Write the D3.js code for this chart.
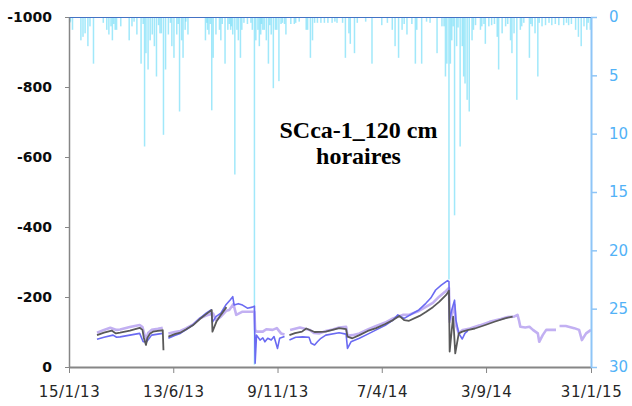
<!DOCTYPE html>
<html>
<head>
<meta charset="utf-8">
<script src="https://cdn.jsdelivr.net/npm/d3@7"></script>
<style>
  body { margin: 0; background: #fff; }
  svg { display: block; }
</style>
</head>
<body>
<div id="chart"></div>
<script>
/* SCca-1_120 cm, hourly tensiometers + daily rain (reversed right axis) */

const xTickDates = ['2013-01-15', '2013-06-13', '2013-11-09', '2014-04-07', '2014-09-03', '2015-01-31'];
const leftTicks = [0, -200, -400, -600, -800, -1000];
const rightTicks = [0, 5, 10, 15, 20, 25, 30];
const titleLines = ['SCca-1_120 cm', 'horaires'];

// rain, mm per day
const rain = [
  ['2013-01-16', 0.5], ['2013-01-17', 0.4], ['2013-01-20', 1.1], ['2013-02-01', 2.0], ['2013-02-04', 1.7],
  ['2013-02-07', 1.4], ['2013-02-11', 2.5], ['2013-02-14', 0.8], ['2013-02-19', 4.0],
  ['2013-03-05', 0.5], ['2013-03-10', 1.1], ['2013-03-13', 1.5], ['2013-03-16', 0.8], ['2013-03-18', 2.0],
  ['2013-03-20', 0.6], ['2013-03-22', 1.1], ['2013-03-24', 1.1], ['2013-03-30', 0.8],
  ['2013-04-11', 2.0], ['2013-04-15', 0.8], ['2013-04-18', 0.4], ['2013-04-22', 1.5], ['2013-04-28', 4.0],
  ['2013-05-01', 0.6], ['2013-05-03', 11.1], ['2013-05-05', 3.1], ['2013-05-08', 4.5], ['2013-05-11', 2.0],
  ['2013-05-14', 1.5], ['2013-05-17', 2.5], ['2013-05-20', 5.1], ['2013-05-23', 0.7], ['2013-05-25', 1.4],
  ['2013-05-27', 1.4], ['2013-05-30', 10.1],
  ['2013-06-02', 4.5], ['2013-06-06', 1.5], ['2013-06-09', 0.5], ['2013-06-11', 2.5], ['2013-06-14', 3.5],
  ['2013-06-18', 1.5], ['2013-06-20', 0.6], ['2013-06-22', 8.1], ['2013-06-25', 2.0], ['2013-06-27', 3.5],
  ['2013-06-30', 1.1], ['2013-07-01', 0.4], ['2013-07-04', 1.5],
  ['2013-07-29', 2.0], ['2013-07-31', 0.5], ['2013-08-01', 1.1], ['2013-08-03', 1.5], ['2013-08-05', 0.6],
  ['2013-08-07', 8.0], ['2013-08-09', 3.5], ['2013-08-13', 1.5], ['2013-08-18', 1.1], ['2013-08-20', 2.0],
  ['2013-08-22', 0.6], ['2013-08-26', 4.0], ['2013-08-30', 1.1],
  ['2013-09-01', 0.6], ['2013-09-03', 1.1], ['2013-09-04', 0.8], ['2013-09-06', 1.5], ['2013-09-09', 13.5],
  ['2013-09-12', 1.1], ['2013-09-14', 2.0], ['2013-09-17', 3.5], ['2013-09-19', 1.1], ['2013-09-22', 0.5],
  ['2013-09-27', 0.6],
  ['2013-10-02', 0.5], ['2013-10-04', 1.1], ['2013-10-07', 29.8], ['2013-10-09', 2.0], ['2013-10-12', 1.1],
  ['2013-10-14', 2.5], ['2013-10-16', 1.5], ['2013-10-17', 0.6], ['2013-10-19', 1.1], ['2013-10-21', 1.1],
  ['2013-10-24', 2.0], ['2013-10-27', 4.0], ['2013-10-29', 0.7], ['2013-10-31', 1.5],
  ['2013-11-03', 6.1], ['2013-11-06', 1.1], ['2013-11-08', 1.1], ['2013-11-11', 5.5], ['2013-11-14', 0.6],
  ['2013-11-16', 0.5], ['2013-11-19', 0.6], ['2013-11-21', 1.5], ['2013-11-28', 0.6],
  ['2013-12-03', 0.6], ['2013-12-05', 0.5], ['2013-12-10', 0.4], ['2013-12-20', 1.1], ['2013-12-22', 1.1],
  ['2013-12-26', 3.5], ['2013-12-29', 2.0],
  ['2014-01-01', 0.5], ['2014-01-05', 0.5], ['2014-01-10', 0.5], ['2014-01-15', 0.5], ['2014-01-20', 0.5],
  ['2014-01-26', 0.5], ['2014-01-30', 0.4], ['2014-02-02', 0.5], ['2014-02-10', 0.5], ['2014-02-14', 3.5],
  ['2014-02-19', 1.4], ['2014-02-21', 2.3], ['2014-02-27', 3.1],
  ['2014-03-03', 0.5], ['2014-03-15', 0.4], ['2014-03-24', 4.0], ['2014-04-07', 0.7], ['2014-04-15', 0.5],
  ['2014-04-22', 1.1], ['2014-04-26', 2.5], ['2014-05-01', 3.5], ['2014-05-06', 1.1], ['2014-05-09', 0.6],
  ['2014-05-13', 1.5], ['2014-05-20', 0.6], ['2014-05-25', 4.0], ['2014-05-27', 1.1],
  ['2014-06-03', 4.0], ['2014-06-10', 0.4], ['2014-06-15', 0.5], ['2014-06-25', 3.1], ['2014-07-02', 0.8],
  ['2014-07-05', 0.8], ['2014-07-07', 5.1], ['2014-07-09', 4.0], ['2014-07-12', 22.5], ['2014-07-14', 4.0],
  ['2014-07-16', 2.0], ['2014-07-18', 0.8], ['2014-07-20', 17.0], ['2014-07-23', 2.5], ['2014-07-25', 0.9],
  ['2014-07-28', 11.1], ['2014-07-31', 2.5],
  ['2014-08-02', 5.1], ['2014-08-04', 5.7], ['2014-08-07', 7.1], ['2014-08-10', 8.1], ['2014-08-14', 2.0],
  ['2014-08-16', 1.1], ['2014-08-19', 0.7], ['2014-08-26', 1.1], ['2014-08-28', 0.8], ['2014-08-31', 0.6],
  ['2014-09-02', 2.3], ['2014-09-07', 0.8], ['2014-09-11', 0.7], ['2014-09-15', 0.6], ['2014-09-19', 1.7],
  ['2014-09-21', 4.5], ['2014-09-26', 1.4],
  ['2014-10-01', 0.8], ['2014-10-04', 0.6], ['2014-10-08', 2.0], ['2014-10-10', 3.1], ['2014-10-13', 1.4],
  ['2014-10-17', 7.1], ['2014-10-22', 1.1], ['2014-10-24', 0.8], ['2014-10-27', 0.5],
  ['2014-11-04', 3.5], ['2014-11-06', 0.6], ['2014-11-08', 0.8], ['2014-11-12', 1.4], ['2014-11-16', 5.1],
  ['2014-11-18', 0.5], ['2014-11-22', 0.8], ['2014-11-27', 0.7],
  ['2014-12-02', 0.5], ['2014-12-06', 0.7], ['2014-12-11', 0.6], ['2014-12-16', 0.7], ['2014-12-23', 0.7],
  ['2014-12-27', 0.5], ['2014-12-30', 0.7],
  ['2015-01-03', 0.6], ['2015-01-09', 1.1], ['2015-01-13', 1.7], ['2015-01-17', 2.5], ['2015-01-21', 0.8],
  ['2015-01-25', 1.1], ['2015-01-27', 0.5], ['2015-01-30', 1.1]
];

// tensiometer readings, null = gap in record
const grayLine = [
  ['2013-02-24', -91], ['2013-03-06', -98], ['2013-03-17', -104], ['2013-03-23', -96], ['2013-03-29', -98],
  ['2013-04-12', -104], ['2013-04-26', -112], ['2013-04-30', -106], ['2013-05-02', -83], ['2013-05-05', -63],
  ['2013-05-07', -83], ['2013-05-11', -96], ['2013-05-15', -101], ['2013-05-22', -103], ['2013-05-29', -105],
  ['2013-05-30', -48], ['2013-06-03', null],
  ['2013-06-06', -87], ['2013-06-15', -94], ['2013-06-23', -98], ['2013-07-01', -107], ['2013-07-11', -119],
  ['2013-07-21', -137], ['2013-07-30', -151], ['2013-08-07', -163], ['2013-08-08', -101], ['2013-08-14', -131],
  ['2013-08-20', -149], ['2013-08-28', -171], ['2013-09-01', null],
  ['2013-11-26', -91], ['2013-12-04', -97], ['2013-12-14', -101], ['2013-12-20', -110], ['2014-01-01', -100],
  ['2014-01-17', -101], ['2014-02-05', -111], ['2014-02-15', -108], ['2014-02-17', -87], ['2014-02-24', -82],
  ['2014-03-06', -91], ['2014-03-18', -103], ['2014-03-30', -111], ['2014-04-12', -123], ['2014-04-23', -134],
  ['2014-05-02', -146], ['2014-05-09', -134], ['2014-05-16', -132], ['2014-05-31', -146], ['2014-06-09', -157],
  ['2014-06-19', -171], ['2014-06-28', -186], ['2014-07-08', -206], ['2014-07-12', -218], ['2014-07-13', -44],
  ['2014-07-16', -106], ['2014-07-18', -144], ['2014-07-21', -39], ['2014-07-26', -96], ['2014-07-31', -101],
  ['2014-08-09', -106], ['2014-08-18', -110], ['2014-09-02', -120], ['2014-09-16', -130], ['2014-09-30', -139],
  ['2014-10-11', -144]
];

const blueLine = [
  ['2013-02-24', -79], ['2013-03-06', -85], ['2013-03-19', -91], ['2013-03-24', -85], ['2013-03-29', -86],
  ['2013-04-12', -91], ['2013-04-26', -96], ['2013-05-01', -72], ['2013-05-06', -72], ['2013-05-13', -91],
  ['2013-05-22', -94], ['2013-05-29', -96], ['2013-06-03', null],
  ['2013-06-06', -82], ['2013-06-15', -90], ['2013-06-23', -96], ['2013-07-01', -106], ['2013-07-11', -120],
  ['2013-07-21', -139], ['2013-07-30', -154], ['2013-08-06', -163], ['2013-08-08', -128], ['2013-08-13', -144],
  ['2013-08-20', -154], ['2013-08-27', -177], ['2013-09-02', -191], ['2013-09-06', -201], ['2013-09-08', -177],
  ['2013-09-14', -181], ['2013-09-20', -177], ['2013-09-27', -168], ['2013-10-04', -171], ['2013-10-07', -174],
  ['2013-10-08', -11], ['2013-10-10', -91], ['2013-10-15', -77], ['2013-10-19', -83], ['2013-10-22', -72],
  ['2013-10-26', -82], ['2013-10-31', -77], ['2013-11-04', -87], ['2013-11-09', -53], ['2013-11-12', -82],
  ['2013-11-19', -87], ['2013-11-22', null],
  ['2013-11-26', -77], ['2013-12-05', -85], ['2013-12-15', -86], ['2013-12-24', -85], ['2013-12-27', -68],
  ['2014-01-01', -63], ['2014-01-05', -72], ['2014-01-10', -82], ['2014-01-17', -91], ['2014-02-05', -98],
  ['2014-02-15', -94], ['2014-02-17', -53], ['2014-02-22', -72], ['2014-03-06', -82], ['2014-03-18', -94],
  ['2014-03-30', -106], ['2014-04-12', -119], ['2014-04-23', -134], ['2014-04-30', -149], ['2014-05-09', -139],
  ['2014-05-21', -153], ['2014-05-30', -163], ['2014-06-09', -182], ['2014-06-16', -197], ['2014-06-23', -220],
  ['2014-07-01', -234], ['2014-07-10', -247], ['2014-07-12', -244], ['2014-07-13', -134], ['2014-07-16', -163],
  ['2014-07-20', -191], ['2014-07-22', -134], ['2014-07-26', -96], ['2014-07-31', -80], ['2014-08-04', -97],
  ['2014-08-08', -103]
];

const lavenderLine = [
  ['2013-02-24', -98], ['2013-03-06', -106], ['2013-03-15', -112], ['2013-03-24', -106], ['2013-03-29', -107],
  ['2013-04-12', -114], ['2013-04-26', -120], ['2013-04-30', -114], ['2013-05-05', -77], ['2013-05-08', -97],
  ['2013-05-13', -106], ['2013-05-22', -109], ['2013-05-29', -112], ['2013-06-03', null],
  ['2013-06-06', -96], ['2013-06-15', -100], ['2013-06-23', -103], ['2013-07-01', -110], ['2013-07-11', -121],
  ['2013-07-21', -139], ['2013-07-30', -147], ['2013-08-09', -153], ['2013-08-13', -134], ['2013-08-20', -144],
  ['2013-08-28', -161], ['2013-09-01', -163], ['2013-09-07', -180], ['2013-09-11', -149], ['2013-09-20', -158],
  ['2013-09-30', -158], ['2013-10-07', -158], ['2013-10-08', -106], ['2013-10-10', -101], ['2013-10-19', -101],
  ['2013-10-24', -108], ['2013-11-02', -106], ['2013-11-08', -111], ['2013-11-14', -96], ['2013-11-19', -93],
  ['2013-11-22', null],
  ['2013-11-27', -106], ['2013-12-11', -113], ['2013-12-18', -109], ['2013-12-25', -106], ['2013-12-31', -97],
  ['2014-01-08', -96], ['2014-01-17', -103], ['2014-01-27', -107], ['2014-02-05', -113], ['2014-02-15', -115],
  ['2014-02-17', -89], ['2014-02-24', -91], ['2014-03-06', -96], ['2014-03-18', -107], ['2014-03-30', -117],
  ['2014-04-12', -127], ['2014-04-23', -139], ['2014-05-07', -149], ['2014-05-17', -150], ['2014-05-30', -160],
  ['2014-06-09', -172], ['2014-06-19', -183], ['2014-06-28', -201], ['2014-07-06', -214], ['2014-07-12', -226],
  ['2014-07-13', -129], ['2014-07-16', -149], ['2014-07-20', -177], ['2014-07-22', -120], ['2014-07-26', -97],
  ['2014-08-01', -106], ['2014-08-11', -110], ['2014-08-25', -119], ['2014-09-08', -129], ['2014-09-24', -137],
  ['2014-10-04', -143], ['2014-10-13', -144], ['2014-10-18', -149], ['2014-10-20', -134], ['2014-10-22', -115],
  ['2014-10-29', -113], ['2014-11-04', -115], ['2014-11-09', -106], ['2014-11-16', -96], ['2014-11-18', -72],
  ['2014-11-23', -91], ['2014-11-28', -106], ['2014-12-12', -106], ['2014-12-14', null],
  ['2014-12-17', -117], ['2014-12-26', -117], ['2015-01-07', -111], ['2015-01-14', -106], ['2015-01-18', -77],
  ['2015-01-24', -96], ['2015-01-31', -106]
];

const parseDay = d3.utcParse('%Y-%m-%d');

function drawChart() {
  const width = 632, height = 406;
  const margin = { top: 17, right: 41, bottom: 39, left: 69 };
  const inner = { width: width - margin.left - margin.right, height: height - margin.top - margin.bottom };

  const svg = d3.select('#chart').append('svg')
    .attr('width', width).attr('height', height);

  const g = svg.append('g').attr('transform', `translate(${margin.left},${margin.top})`);

  const x = d3.scaleUtc()
    .domain([parseDay(xTickDates[0]), parseDay(xTickDates[xTickDates.length - 1])])
    .range([0, inner.width]);
  const yLeft = d3.scaleLinear().domain([0, -1000]).range([inner.height, 0]);
  const yRight = d3.scaleLinear().domain([0, 30]).range([0, inner.height]);

  // rain bars hang from the top
  g.selectAll('.rain').data(rain).enter().append('rect')
    .attr('class', 'rain')
    .attr('x', d => x(parseDay(d[0])) - 0.75)
    .attr('y', yRight(0))
    .attr('width', 1.5)
    .attr('height', d => yRight(d[1]) - yRight(0))
    .style('fill', '#6edcf8')
    .style('opacity', 0.65);

  const line = d3.line()
    .defined(d => d[1] !== null)
    .x(d => x(parseDay(d[0])))
    .y(d => yLeft(d[1]));

  const series = [
    { data: lavenderLine, color: '#c2b0f2', w: 2.6 },
    { data: blueLine, color: '#6a6af2', w: 1.6 },
    { data: grayLine, color: '#595959', w: 1.8 }
  ];
  series.forEach(s => {
    g.append('path').datum(s.data)
      .attr('d', line)
      .style('fill', 'none')
      .style('stroke', s.color)
      .style('stroke-width', s.w)
      .style('stroke-linejoin', 'round');
  });

  // top border line (secondary category axis)
  g.append('line')
    .attr('x1', 0).attr('x2', inner.width)
    .attr('y1', 0.5).attr('y2', 0.5)
    .style('stroke', '#4472c4').style('stroke-width', 1);

  const left = g.append('g')
    .call(d3.axisLeft(yLeft).tickValues(leftTicks).tickFormat(d => String(d))
      .tickSize(4).tickSizeOuter(0).tickPadding(13));
  left.select('.domain').style('stroke', '#868686').style('stroke-width', 1.5);
  left.selectAll('.tick line').style('stroke', '#868686');
  left.selectAll('text')
    .style('font-family', '"DejaVu Sans", sans-serif')
    .style('font-size', '14px').style('font-weight', 'bold').style('fill', '#0d0d0d');

  const bottom = g.append('g').attr('transform', `translate(0,${inner.height})`)
    .call(d3.axisBottom(x).tickValues(xTickDates.map(parseDay)).tickFormat(d3.utcFormat('%-d/%-m/%y'))
      .tickSize(6).tickSizeOuter(0).tickPadding(13));
  bottom.select('.domain').style('stroke', '#868686').style('stroke-width', 2);
  bottom.selectAll('.tick line').style('stroke', '#868686');
  bottom.selectAll('text')
    .style('font-family', '"DejaVu Sans", sans-serif')
    .style('font-size', '15px').style('letter-spacing', '0.5px').style('fill', '#262626');

  const right = g.append('g').attr('transform', `translate(${inner.width},0)`)
    .call(d3.axisRight(yRight).tickValues(rightTicks)
      .tickSize(6).tickSizeOuter(0).tickPadding(12));
  right.select('.domain').style('stroke', '#8ec5f7').style('stroke-width', 2);
  right.selectAll('.tick line').style('stroke', '#8ec5f7').style('stroke-width', 1.5);
  right.selectAll('text')
    .style('font-family', '"DejaVu Sans", sans-serif')
    .style('font-size', '15px').style('fill', '#52b2f7');

  // title inside the plot
  svg.selectAll('.title').data(titleLines).enter().append('text')
    .attr('class', 'title')
    .attr('x', 358.5)
    .attr('y', (d, i) => 138 + i * 26)
    .attr('text-anchor', 'middle')
    .style('font-family', '"Liberation Serif", serif')
    .style('font-weight', 'bold')
    .style('font-size', '24px')
    .style('fill', '#000')
    .text(d => d);
}

drawChart();
</script>
</body>
</html>
